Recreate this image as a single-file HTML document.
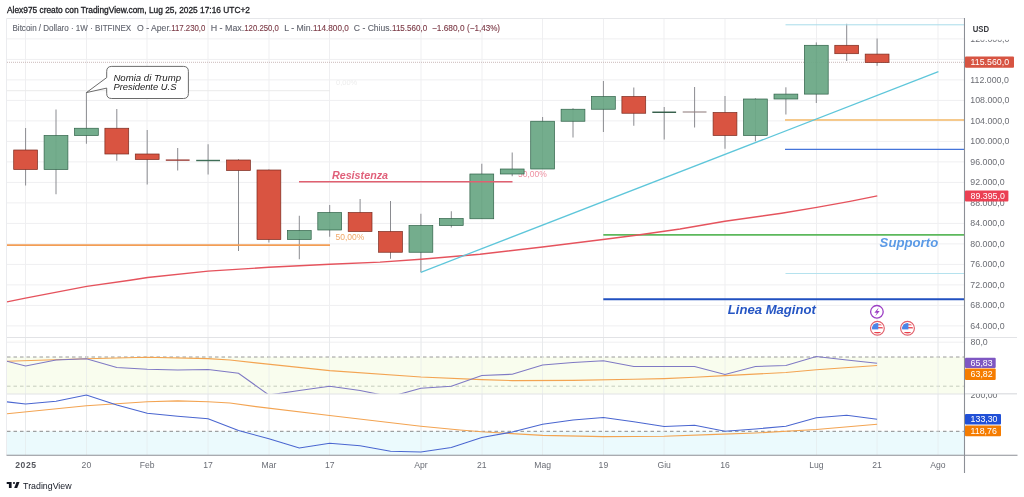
<!DOCTYPE html>
<html><head><meta charset="utf-8"><title>BTC chart</title>
<style>
html,body{margin:0;padding:0;background:#fff;}
body{width:1024px;height:497px;overflow:hidden;}
svg{display:block;-webkit-font-smoothing:antialiased;will-change:transform;}
text{white-space:pre;}
</style></head>
<body>
<svg width="1024" height="497" viewBox="0 0 1024 497">
<rect width="1024" height="497" fill="#fff"/>
<line x1="25.5" y1="19" x2="25.5" y2="455" stroke="#efeff1" stroke-width="1"/>
<line x1="86.5" y1="19" x2="86.5" y2="455" stroke="#efeff1" stroke-width="1"/>
<line x1="147.0" y1="19" x2="147.0" y2="455" stroke="#efeff1" stroke-width="1"/>
<line x1="208.0" y1="19" x2="208.0" y2="455" stroke="#efeff1" stroke-width="1"/>
<line x1="269.0" y1="19" x2="269.0" y2="455" stroke="#efeff1" stroke-width="1"/>
<line x1="329.5" y1="19" x2="329.5" y2="455" stroke="#efeff1" stroke-width="1"/>
<line x1="421.0" y1="19" x2="421.0" y2="455" stroke="#efeff1" stroke-width="1"/>
<line x1="482.0" y1="19" x2="482.0" y2="455" stroke="#efeff1" stroke-width="1"/>
<line x1="542.5" y1="19" x2="542.5" y2="455" stroke="#efeff1" stroke-width="1"/>
<line x1="603.5" y1="19" x2="603.5" y2="455" stroke="#efeff1" stroke-width="1"/>
<line x1="664.0" y1="19" x2="664.0" y2="455" stroke="#efeff1" stroke-width="1"/>
<line x1="725.0" y1="19" x2="725.0" y2="455" stroke="#efeff1" stroke-width="1"/>
<line x1="816.5" y1="19" x2="816.5" y2="455" stroke="#efeff1" stroke-width="1"/>
<line x1="877.0" y1="19" x2="877.0" y2="455" stroke="#efeff1" stroke-width="1"/>
<line x1="938.0" y1="19" x2="938.0" y2="455" stroke="#efeff1" stroke-width="1"/>
<line x1="7" y1="325.9" x2="964" y2="325.9" stroke="#efeff1" stroke-width="1"/>
<line x1="7" y1="305.4" x2="964" y2="305.4" stroke="#efeff1" stroke-width="1"/>
<line x1="7" y1="284.9" x2="964" y2="284.9" stroke="#efeff1" stroke-width="1"/>
<line x1="7" y1="264.4" x2="964" y2="264.4" stroke="#efeff1" stroke-width="1"/>
<line x1="7" y1="243.9" x2="964" y2="243.9" stroke="#efeff1" stroke-width="1"/>
<line x1="7" y1="223.4" x2="964" y2="223.4" stroke="#efeff1" stroke-width="1"/>
<line x1="7" y1="202.9" x2="964" y2="202.9" stroke="#efeff1" stroke-width="1"/>
<line x1="7" y1="182.4" x2="964" y2="182.4" stroke="#efeff1" stroke-width="1"/>
<line x1="7" y1="161.9" x2="964" y2="161.9" stroke="#efeff1" stroke-width="1"/>
<line x1="7" y1="141.4" x2="964" y2="141.4" stroke="#efeff1" stroke-width="1"/>
<line x1="7" y1="120.9" x2="964" y2="120.9" stroke="#efeff1" stroke-width="1"/>
<line x1="7" y1="100.4" x2="964" y2="100.4" stroke="#efeff1" stroke-width="1"/>
<line x1="7" y1="79.9" x2="964" y2="79.9" stroke="#efeff1" stroke-width="1"/>
<line x1="7" y1="59.4" x2="964" y2="59.4" stroke="#efeff1" stroke-width="1"/>
<line x1="7" y1="38.9" x2="964" y2="38.9" stroke="#efeff1" stroke-width="1"/>
<line x1="7" y1="90.7" x2="330" y2="90.7" stroke="#ebebeb" stroke-width="1"/>
<text x="336" y="85" font-size="7.5" fill="#ededed" font-family="'Liberation Sans', Arial, sans-serif">0,00%</text>
<line x1="7" y1="342.2" x2="964" y2="342.2" stroke="#efeff1"/>
<line x1="7" y1="371.5" x2="964" y2="371.5" stroke="#efeff1"/>
<rect x="7" y="357" width="957" height="37" fill="#f9fdee"/>
<rect x="7" y="431.3" width="957" height="23.7" fill="#ebfafd"/>
<line x1="7" y1="357" x2="964" y2="357" stroke="#9a9a9a" stroke-width="1" stroke-dasharray="3.5 3"/>
<line x1="7" y1="386.2" x2="964" y2="386.2" stroke="#c6ccbd" stroke-width="1" stroke-dasharray="3.5 3"/>
<line x1="7" y1="431.3" x2="964" y2="431.3" stroke="#8a8a8a" stroke-width="1" stroke-dasharray="3.5 3"/>
<line x1="25.5" y1="338" x2="25.5" y2="455" stroke="#e4e8ea" stroke-width="1" opacity="0.6"/>
<line x1="86.5" y1="338" x2="86.5" y2="455" stroke="#e4e8ea" stroke-width="1" opacity="0.6"/>
<line x1="147.0" y1="338" x2="147.0" y2="455" stroke="#e4e8ea" stroke-width="1" opacity="0.6"/>
<line x1="208.0" y1="338" x2="208.0" y2="455" stroke="#e4e8ea" stroke-width="1" opacity="0.6"/>
<line x1="269.0" y1="338" x2="269.0" y2="455" stroke="#e4e8ea" stroke-width="1" opacity="0.6"/>
<line x1="329.5" y1="338" x2="329.5" y2="455" stroke="#e4e8ea" stroke-width="1" opacity="0.6"/>
<line x1="421.0" y1="338" x2="421.0" y2="455" stroke="#e4e8ea" stroke-width="1" opacity="0.6"/>
<line x1="482.0" y1="338" x2="482.0" y2="455" stroke="#e4e8ea" stroke-width="1" opacity="0.6"/>
<line x1="542.5" y1="338" x2="542.5" y2="455" stroke="#e4e8ea" stroke-width="1" opacity="0.6"/>
<line x1="603.5" y1="338" x2="603.5" y2="455" stroke="#e4e8ea" stroke-width="1" opacity="0.6"/>
<line x1="664.0" y1="338" x2="664.0" y2="455" stroke="#e4e8ea" stroke-width="1" opacity="0.6"/>
<line x1="725.0" y1="338" x2="725.0" y2="455" stroke="#e4e8ea" stroke-width="1" opacity="0.6"/>
<line x1="816.5" y1="338" x2="816.5" y2="455" stroke="#e4e8ea" stroke-width="1" opacity="0.6"/>
<line x1="877.0" y1="338" x2="877.0" y2="455" stroke="#e4e8ea" stroke-width="1" opacity="0.6"/>
<line x1="938.0" y1="338" x2="938.0" y2="455" stroke="#e4e8ea" stroke-width="1" opacity="0.6"/>
<line x1="7" y1="337.5" x2="1017" y2="337.5" stroke="#e2e3e6" stroke-width="1"/>
<line x1="7" y1="394" x2="1017" y2="394" stroke="#e2e3e6" stroke-width="1"/>
<line x1="7" y1="62.3" x2="964" y2="62.3" stroke="#cbb9b9" stroke-width="1" stroke-dasharray="1 1"/>
<text x="335.5" y="240.4" font-size="8.5" fill="#f0a868" font-family="'Liberation Sans', Arial, sans-serif">50,00%</text>
<text x="518" y="177.1" font-size="8.5" fill="#ee8fa0" font-family="'Liberation Sans', Arial, sans-serif">50,00%</text>
<line x1="25.6" y1="128" x2="25.6" y2="185.5" stroke="#8a8b90" stroke-width="1"/>
<line x1="56.0" y1="109.5" x2="56.0" y2="194.25" stroke="#8a8b90" stroke-width="1"/>
<line x1="86.4" y1="92.5" x2="86.4" y2="143.75" stroke="#8a8b90" stroke-width="1"/>
<line x1="116.8" y1="109" x2="116.8" y2="160.75" stroke="#8a8b90" stroke-width="1"/>
<line x1="147.2" y1="130" x2="147.2" y2="184.5" stroke="#8a8b90" stroke-width="1"/>
<line x1="177.7" y1="148" x2="177.7" y2="170.5" stroke="#8a8b90" stroke-width="1"/>
<line x1="208.1" y1="144.25" x2="208.1" y2="174.5" stroke="#8a8b90" stroke-width="1"/>
<line x1="238.5" y1="159.25" x2="238.5" y2="251" stroke="#8a8b90" stroke-width="1"/>
<line x1="268.9" y1="169.5" x2="268.9" y2="242.5" stroke="#8a8b90" stroke-width="1"/>
<line x1="299.3" y1="215.75" x2="299.3" y2="259.25" stroke="#8a8b90" stroke-width="1"/>
<line x1="329.7" y1="205" x2="329.7" y2="236.75" stroke="#8a8b90" stroke-width="1"/>
<line x1="360.1" y1="199" x2="360.1" y2="231.5" stroke="#8a8b90" stroke-width="1"/>
<line x1="390.5" y1="201" x2="390.5" y2="258.75" stroke="#8a8b90" stroke-width="1"/>
<line x1="420.9" y1="213.75" x2="420.9" y2="272.25" stroke="#8a8b90" stroke-width="1"/>
<line x1="451.3" y1="211.25" x2="451.3" y2="227.5" stroke="#8a8b90" stroke-width="1"/>
<line x1="481.8" y1="163.75" x2="481.8" y2="218.75" stroke="#8a8b90" stroke-width="1"/>
<line x1="512.2" y1="152.5" x2="512.2" y2="176.25" stroke="#8a8b90" stroke-width="1"/>
<line x1="542.6" y1="117" x2="542.6" y2="169" stroke="#8a8b90" stroke-width="1"/>
<line x1="573.0" y1="108.25" x2="573.0" y2="137.5" stroke="#8a8b90" stroke-width="1"/>
<line x1="603.4" y1="81" x2="603.4" y2="132" stroke="#8a8b90" stroke-width="1"/>
<line x1="633.8" y1="87.5" x2="633.8" y2="125.75" stroke="#8a8b90" stroke-width="1"/>
<line x1="664.2" y1="107" x2="664.2" y2="139.5" stroke="#8a8b90" stroke-width="1"/>
<line x1="694.6" y1="87" x2="694.6" y2="127.5" stroke="#8a8b90" stroke-width="1"/>
<line x1="725.0" y1="96" x2="725.0" y2="148.75" stroke="#8a8b90" stroke-width="1"/>
<line x1="755.4" y1="98.25" x2="755.4" y2="141.25" stroke="#8a8b90" stroke-width="1"/>
<line x1="785.9" y1="87.3" x2="785.9" y2="114.5" stroke="#8a8b90" stroke-width="1"/>
<line x1="816.3" y1="42.4" x2="816.3" y2="103" stroke="#8a8b90" stroke-width="1"/>
<line x1="846.7" y1="23.8" x2="846.7" y2="61" stroke="#8a8b90" stroke-width="1"/>
<line x1="877.1" y1="38.5" x2="877.1" y2="65.8" stroke="#8a8b90" stroke-width="1"/>
<rect x="13.7" y="150" width="23.8" height="19.50" fill="#d95441" fill-opacity="1" stroke="#7a2a1e" stroke-width="0.7"/>
<rect x="44.1" y="135.5" width="23.8" height="34.00" fill="#6ba886" fill-opacity="0.94" stroke="#2f6148" stroke-width="0.7"/>
<rect x="74.5" y="128.25" width="23.8" height="7.25" fill="#6ba886" fill-opacity="0.94" stroke="#2f6148" stroke-width="0.7"/>
<rect x="104.9" y="128.25" width="23.8" height="25.75" fill="#d95441" fill-opacity="1" stroke="#7a2a1e" stroke-width="0.7"/>
<rect x="135.3" y="154" width="23.8" height="5.50" fill="#d95441" fill-opacity="1" stroke="#7a2a1e" stroke-width="0.7"/>
<rect x="165.8" y="159.43" width="23.8" height="1.4" fill="#9c3f38"/>
<rect x="196.2" y="159.80" width="23.8" height="1.4" fill="#3f6e58"/>
<rect x="226.6" y="160" width="23.8" height="10.50" fill="#d95441" fill-opacity="1" stroke="#7a2a1e" stroke-width="0.7"/>
<rect x="257.0" y="170" width="23.8" height="69.50" fill="#d95441" fill-opacity="1" stroke="#7a2a1e" stroke-width="0.7"/>
<rect x="287.4" y="230.5" width="23.8" height="9.00" fill="#6ba886" fill-opacity="0.94" stroke="#2f6148" stroke-width="0.7"/>
<rect x="317.8" y="212.5" width="23.8" height="17.50" fill="#6ba886" fill-opacity="0.94" stroke="#2f6148" stroke-width="0.7"/>
<rect x="348.2" y="212.5" width="23.8" height="19.00" fill="#d95441" fill-opacity="1" stroke="#7a2a1e" stroke-width="0.7"/>
<rect x="378.6" y="231.5" width="23.8" height="20.75" fill="#d95441" fill-opacity="1" stroke="#7a2a1e" stroke-width="0.7"/>
<rect x="409.0" y="225.5" width="23.8" height="26.75" fill="#6ba886" fill-opacity="0.94" stroke="#2f6148" stroke-width="0.7"/>
<rect x="439.4" y="218.5" width="23.8" height="7.00" fill="#6ba886" fill-opacity="0.94" stroke="#2f6148" stroke-width="0.7"/>
<rect x="469.9" y="174" width="23.8" height="44.75" fill="#6ba886" fill-opacity="0.94" stroke="#2f6148" stroke-width="0.7"/>
<rect x="500.3" y="169" width="23.8" height="5.00" fill="#6ba886" fill-opacity="0.94" stroke="#2f6148" stroke-width="0.7"/>
<rect x="530.7" y="121.25" width="23.8" height="47.75" fill="#6ba886" fill-opacity="0.94" stroke="#2f6148" stroke-width="0.7"/>
<rect x="561.1" y="109.25" width="23.8" height="12.00" fill="#6ba886" fill-opacity="0.94" stroke="#2f6148" stroke-width="0.7"/>
<rect x="591.5" y="96.5" width="23.8" height="12.75" fill="#6ba886" fill-opacity="0.94" stroke="#2f6148" stroke-width="0.7"/>
<rect x="621.9" y="96.5" width="23.8" height="16.75" fill="#d95441" fill-opacity="1" stroke="#7a2a1e" stroke-width="0.7"/>
<rect x="652.3" y="111.55" width="23.8" height="1.4" fill="#2f5a45"/>
<rect x="682.7" y="111.45" width="23.8" height="1.1" fill="#958382"/>
<rect x="713.1" y="112.5" width="23.8" height="23.00" fill="#d95441" fill-opacity="1" stroke="#7a2a1e" stroke-width="0.7"/>
<rect x="743.5" y="99" width="23.8" height="36.50" fill="#6ba886" fill-opacity="0.94" stroke="#2f6148" stroke-width="0.7"/>
<rect x="774.0" y="94.1" width="23.8" height="4.90" fill="#6ba886" fill-opacity="0.94" stroke="#2f6148" stroke-width="0.7"/>
<rect x="804.4" y="45.3" width="23.8" height="48.80" fill="#6ba886" fill-opacity="0.94" stroke="#2f6148" stroke-width="0.7"/>
<rect x="834.8" y="45.3" width="23.8" height="8.40" fill="#d95441" fill-opacity="1" stroke="#7a2a1e" stroke-width="0.7"/>
<rect x="865.2" y="54.1" width="23.8" height="8.40" fill="#d95441" fill-opacity="1" stroke="#7a2a1e" stroke-width="0.7"/>
<line x1="785.5" y1="24.8" x2="964" y2="24.8" stroke="#a8dcea" stroke-width="1"/>
<line x1="785.5" y1="273.5" x2="964" y2="273.5" stroke="#b5e2ee" stroke-width="1.2"/>
<line x1="7" y1="245.1" x2="330" y2="245.1" stroke="#f29d55" stroke-width="1.6"/>
<line x1="785" y1="120.1" x2="964" y2="120.1" stroke="#f5c98c" stroke-width="2"/>
<line x1="785" y1="149.4" x2="964" y2="149.4" stroke="#4474da" stroke-width="1.35"/>
<line x1="603.3" y1="234.9" x2="964" y2="234.9" stroke="#5cb85c" stroke-width="1.8"/>
<line x1="603.3" y1="299.3" x2="964" y2="299.3" stroke="#2050c0" stroke-width="2"/>
<line x1="299" y1="181.7" x2="512.5" y2="181.7" stroke="#e06070" stroke-width="1.5"/>
<polyline fill="none" stroke="#e5535d" stroke-width="1.4" points="7,301.9 25.4,298.1 86.7,286.4 130,280.3 147.6,277.5 208.1,271.1 268.7,267.3 330,264.2 380,262.1 421,259.2 480,254.2 542.5,247.0 603,239.5 636.25,235.2 680,229.0 724.9,221.3 781.6,213.2 816.7,207.4 850,201.4 877.3,195.9"/>
<line x1="420.8" y1="272.3" x2="938.4" y2="71.7" stroke="#5ec6da" stroke-width="1.25"/>
<text x="331.9" y="179" font-size="10" textLength="56.2" lengthAdjust="spacingAndGlyphs" font-weight="bold" font-style="italic" fill="#e0607a" font-family="'Liberation Sans', Arial, sans-serif">Resistenza</text>
<text x="879.6" y="246.9" font-size="13" textLength="58.6" lengthAdjust="spacingAndGlyphs" font-weight="bold" font-style="italic" fill="#5b9ae6" font-family="'Liberation Sans', Arial, sans-serif">Supporto</text>
<text x="727.8" y="314.4" font-size="13.1" font-weight="bold" font-style="italic" fill="#2656c4" font-family="'Liberation Sans', Arial, sans-serif">Linea Maginot</text>
<path d="M111.7,66.4 H183.4 Q188.4,66.4 188.4,71.4 V93.5 Q188.4,98.5 183.4,98.5 H111.7 Q106.7,98.5 106.7,93.5 V88.1 L86.4,92.6 L106.7,77.6 V71.4 Q106.7,66.4 111.7,66.4 Z" fill="#ffffff" stroke="#5a5a5a" stroke-width="0.9"/>
<text x="113.4" y="81.2" font-size="9.9" textLength="67.6" lengthAdjust="spacingAndGlyphs" font-style="italic" fill="#222" font-family="'Liberation Sans', Arial, sans-serif">Nomia di Trump</text>
<text x="113.4" y="90.4" font-size="9.9" textLength="63" lengthAdjust="spacingAndGlyphs" font-style="italic" fill="#222" font-family="'Liberation Sans', Arial, sans-serif">Presidente U.S</text>
<circle cx="876.9" cy="311.8" r="6.3" fill="#fff" stroke="#9c3fc4" stroke-width="1.3"/>
<path d="M878.7,307.5 L874.4,312.7 L876.9,312.7 L875.3,316.3 L879.7,310.9 L877.2,310.9 Z" fill="#9c3fc4"/>
<clipPath id="fc877"><circle cx="877.4" cy="328.3" r="5.4"/></clipPath><circle cx="877.4" cy="328.3" r="6.9" fill="#fff" stroke="#e2606c" stroke-width="1.2"/><g clip-path="url(#fc877)"><rect x="871.40" y="324.30" width="12" height="1.0" fill="#e9414c"/><rect x="871.40" y="327.10" width="12" height="1.3" fill="#e9414c"/><rect x="871.40" y="332.00" width="12" height="1.6" fill="#e9414c"/><rect x="871.40" y="322.30" width="6.9" height="7.1" fill="#4a86e8"/></g>
<clipPath id="fc907"><circle cx="907.5" cy="328.3" r="5.4"/></clipPath><circle cx="907.5" cy="328.3" r="6.9" fill="#fff" stroke="#e2606c" stroke-width="1.2"/><g clip-path="url(#fc907)"><rect x="901.50" y="324.30" width="12" height="1.0" fill="#e9414c"/><rect x="901.50" y="327.10" width="12" height="1.3" fill="#e9414c"/><rect x="901.50" y="332.00" width="12" height="1.6" fill="#e9414c"/><rect x="901.50" y="322.30" width="6.9" height="7.1" fill="#4a86e8"/></g>
<clipPath id="rsiclip"><rect x="7" y="338" width="957" height="55.5"/></clipPath>
<g clip-path="url(#rsiclip)">
<polyline fill="none" stroke="#f3a452" stroke-width="1.1" points="7.0,361.25 86.4,358.75 147.0,357.2 208.0,358.6 230.0,360 256.0,362.9 329.7,370.6 420.9,377 481.7,379.6 512.2,380.6 573.0,380.4 633.8,379.3 664.2,378.6 694.6,377.3 725.0,375.6 785.9,372.5 816.3,369.8 877.1,365.5"/>
<polyline fill="none" stroke="#7f79c4" stroke-width="1.1" points="-4.8,358.2 25.6,366 56.0,360 86.4,358.75 116.8,367.5 147.2,369.25 177.7,370 208.1,369.5 238.5,373.25 268.9,395 299.3,390.5 329.7,386.25 360.1,390.5 390.5,396.7 420.9,388.25 451.3,386.25 481.8,375.5 512.2,374.25 542.6,365 573.0,362.5 603.4,360.75 633.8,366.5 664.2,366.5 694.6,366.5 725.0,374.5 755.4,366.5 785.9,365.5 816.3,356.5 846.7,360 877.1,363.25"/>
</g>
<clipPath id="cciclip"><rect x="7" y="394" width="957" height="61"/></clipPath>
<g clip-path="url(#cciclip)">
<polyline fill="none" stroke="#f3a452" stroke-width="1.1" points="7.0,413.75 86.4,405.75 147.2,401.75 177.7,400.9 208.0,401.75 230.0,403 256.0,406.6 329.7,415.5 420.9,426.2 460.0,430 481.7,431.8 542.6,435.4 603.4,436.6 664.2,436.2 716.0,434.4 755.4,433 816.3,429.5 877.1,424.25"/>
<polyline fill="none" stroke="#4a66d0" stroke-width="1.1" points="-4.8,400.5 25.6,404 56.0,401.25 86.4,395 116.8,405 147.2,413.25 177.7,416.25 208.1,418.75 238.5,430.5 268.9,438.75 299.3,448 329.7,443.25 360.1,445.75 390.5,451.25 420.9,452 451.3,447.5 481.8,437.5 512.2,432 542.6,424.25 573.0,420 603.4,417.5 633.8,421.75 664.2,426.5 694.6,425.25 725.0,431.25 755.4,429 785.9,426.25 816.3,417.75 846.7,415.25 877.1,419.25"/>
</g>
<line x1="6.5" y1="18.5" x2="964" y2="18.5" stroke="#e6e7ea" stroke-width="1.2"/>
<line x1="6.5" y1="18.5" x2="6.5" y2="455" stroke="#ebecef" stroke-width="1"/>
<line x1="964.5" y1="18" x2="964.5" y2="473" stroke="#8c8f96" stroke-width="1.1"/>
<line x1="6.5" y1="455.3" x2="1017.5" y2="455.3" stroke="#8c8f96" stroke-width="1.1"/>
<text x="970.3" y="328.7" font-size="8.8" fill="#6b6d74" font-family="'Liberation Sans', Arial, sans-serif">64.000,0</text>
<text x="970.3" y="308.2" font-size="8.8" fill="#6b6d74" font-family="'Liberation Sans', Arial, sans-serif">68.000,0</text>
<text x="970.3" y="287.7" font-size="8.8" fill="#6b6d74" font-family="'Liberation Sans', Arial, sans-serif">72.000,0</text>
<text x="970.3" y="267.2" font-size="8.8" fill="#6b6d74" font-family="'Liberation Sans', Arial, sans-serif">76.000,0</text>
<text x="970.3" y="246.7" font-size="8.8" fill="#6b6d74" font-family="'Liberation Sans', Arial, sans-serif">80.000,0</text>
<text x="970.3" y="226.2" font-size="8.8" fill="#6b6d74" font-family="'Liberation Sans', Arial, sans-serif">84.000,0</text>
<text x="970.3" y="205.7" font-size="8.8" fill="#6b6d74" font-family="'Liberation Sans', Arial, sans-serif">88.000,0</text>
<text x="970.3" y="185.2" font-size="8.8" fill="#6b6d74" font-family="'Liberation Sans', Arial, sans-serif">92.000,0</text>
<text x="970.3" y="164.7" font-size="8.8" fill="#6b6d74" font-family="'Liberation Sans', Arial, sans-serif">96.000,0</text>
<text x="970.3" y="144.2" font-size="8.8" fill="#6b6d74" font-family="'Liberation Sans', Arial, sans-serif">100.000,0</text>
<text x="970.3" y="123.7" font-size="8.8" fill="#6b6d74" font-family="'Liberation Sans', Arial, sans-serif">104.000,0</text>
<text x="970.3" y="103.2" font-size="8.8" fill="#6b6d74" font-family="'Liberation Sans', Arial, sans-serif">108.000,0</text>
<text x="970.3" y="82.7" font-size="8.8" fill="#6b6d74" font-family="'Liberation Sans', Arial, sans-serif">112.000,0</text>
<text x="970.3" y="41.7" font-size="8.8" fill="#6b6d74" font-family="'Liberation Sans', Arial, sans-serif">120.000,0</text>
<rect x="965.2" y="17" width="52" height="22.8" fill="#fff"/>
<text x="972.7" y="31.9" font-size="8.3" font-weight="bold" textLength="16.4" lengthAdjust="spacingAndGlyphs" fill="#3a3b40" font-family="'Liberation Sans', Arial, sans-serif">USD</text>
<text x="970.6" y="345.2" font-size="8.8" fill="#6b6d74" font-family="'Liberation Sans', Arial, sans-serif">80,0</text>
<text x="970.6" y="398.4" font-size="8.8" fill="#6b6d74" font-family="'Liberation Sans', Arial, sans-serif">200,00</text>
<rect x="965.2" y="388" width="52" height="5" fill="#fff"/>
<line x1="965" y1="393.5" x2="1017" y2="393.5" stroke="#e2e3e6" stroke-width="1"/>
<rect x="965" y="56.5" width="49.0" height="11.2" fill="#d75442" rx="1"/>
<text x="970.6" y="65.2" font-size="8.8" fill="#fff" font-family="'Liberation Sans', Arial, sans-serif">115.560,0</text>
<rect x="965" y="190.4" width="43.4" height="11.1" fill="#eb4053" rx="1"/>
<text x="970.6" y="199.0" font-size="8.8" fill="#fff" font-family="'Liberation Sans', Arial, sans-serif">89.395,0</text>
<rect x="965" y="357.7" width="30.7" height="10.2" fill="#7e57c2" rx="1"/>
<text x="970.6" y="365.9" font-size="8.8" fill="#fff" font-family="'Liberation Sans', Arial, sans-serif">65,83</text>
<rect x="965" y="368.6" width="30.7" height="11.4" fill="#f57c00" rx="1"/>
<text x="970.6" y="377.4" font-size="8.8" fill="#fff" font-family="'Liberation Sans', Arial, sans-serif">63,82</text>
<rect x="965" y="413.9" width="36.0" height="10.6" fill="#2150d6" rx="1"/>
<text x="970.6" y="422.3" font-size="8.8" fill="#fff" font-family="'Liberation Sans', Arial, sans-serif">133,30</text>
<rect x="965" y="425.4" width="36.0" height="10.9" fill="#f57c00" rx="1"/>
<text x="970.6" y="434.0" font-size="8.8" fill="#fff" font-family="'Liberation Sans', Arial, sans-serif">118,76</text>
<text x="25.6" y="467.7" font-size="8.6" text-anchor="middle" font-weight="bold" textLength="20.8" lengthAdjust="spacing" fill="#55575e" font-family="'Liberation Sans', Arial, sans-serif">2025</text>
<text x="86.4" y="467.7" font-size="8.6" text-anchor="middle" fill="#6a6d75" font-family="'Liberation Sans', Arial, sans-serif">20</text>
<text x="147.2" y="467.7" font-size="8.6" text-anchor="middle" fill="#6a6d75" font-family="'Liberation Sans', Arial, sans-serif">Feb</text>
<text x="208.1" y="467.7" font-size="8.6" text-anchor="middle" fill="#6a6d75" font-family="'Liberation Sans', Arial, sans-serif">17</text>
<text x="268.9" y="467.7" font-size="8.6" text-anchor="middle" fill="#6a6d75" font-family="'Liberation Sans', Arial, sans-serif">Mar</text>
<text x="329.7" y="467.7" font-size="8.6" text-anchor="middle" fill="#6a6d75" font-family="'Liberation Sans', Arial, sans-serif">17</text>
<text x="420.9" y="467.7" font-size="8.6" text-anchor="middle" fill="#6a6d75" font-family="'Liberation Sans', Arial, sans-serif">Apr</text>
<text x="481.8" y="467.7" font-size="8.6" text-anchor="middle" fill="#6a6d75" font-family="'Liberation Sans', Arial, sans-serif">21</text>
<text x="542.6" y="467.7" font-size="8.6" text-anchor="middle" fill="#6a6d75" font-family="'Liberation Sans', Arial, sans-serif">Mag</text>
<text x="603.4" y="467.7" font-size="8.6" text-anchor="middle" fill="#6a6d75" font-family="'Liberation Sans', Arial, sans-serif">19</text>
<text x="664.2" y="467.7" font-size="8.6" text-anchor="middle" fill="#6a6d75" font-family="'Liberation Sans', Arial, sans-serif">Giu</text>
<text x="725.0" y="467.7" font-size="8.6" text-anchor="middle" fill="#6a6d75" font-family="'Liberation Sans', Arial, sans-serif">16</text>
<text x="816.3" y="467.7" font-size="8.6" text-anchor="middle" fill="#6a6d75" font-family="'Liberation Sans', Arial, sans-serif">Lug</text>
<text x="877.1" y="467.7" font-size="8.6" text-anchor="middle" fill="#6a6d75" font-family="'Liberation Sans', Arial, sans-serif">21</text>
<text x="937.9" y="467.7" font-size="8.6" text-anchor="middle" fill="#6a6d75" font-family="'Liberation Sans', Arial, sans-serif">Ago</text>
<text x="7" y="13.4" font-size="8.2" textLength="243" lengthAdjust="spacingAndGlyphs" fill="#1e1f24" stroke="#1e1f24" stroke-width="0.3" font-family="'Liberation Sans', Arial, sans-serif">Alex975 creato con TradingView.com, Lug 25, 2025 17:16 UTC+2</text>
<text x="12.5" y="31.3" font-size="8.6" stroke="#62656f" stroke-width="0.12" textLength="118.7" lengthAdjust="spacingAndGlyphs" fill="#62656f" font-family="'Liberation Sans', Arial, sans-serif">Bitcoin / Dollaro · 1W · BITFINEX</text>
<text x="137" y="31.3" font-size="8.6" stroke="#62656f" stroke-width="0.12" textLength="34.2" lengthAdjust="spacingAndGlyphs" fill="#62656f" font-family="'Liberation Sans', Arial, sans-serif">O - Aper.</text>
<text x="171.2" y="31.3" font-size="8.6" stroke="#7c3a46" stroke-width="0.12" textLength="34.2" lengthAdjust="spacingAndGlyphs" fill="#7c3a46" font-family="'Liberation Sans', Arial, sans-serif">117.230,0</text>
<text x="210.7" y="31.3" font-size="8.6" stroke="#62656f" stroke-width="0.12" textLength="33.6" lengthAdjust="spacingAndGlyphs" fill="#62656f" font-family="'Liberation Sans', Arial, sans-serif">H - Max.</text>
<text x="244.3" y="31.3" font-size="8.6" stroke="#7c3a46" stroke-width="0.12" textLength="34.5" lengthAdjust="spacingAndGlyphs" fill="#7c3a46" font-family="'Liberation Sans', Arial, sans-serif">120.250,0</text>
<text x="284.3" y="31.3" font-size="8.6" stroke="#62656f" stroke-width="0.12" textLength="28.7" lengthAdjust="spacingAndGlyphs" fill="#62656f" font-family="'Liberation Sans', Arial, sans-serif">L - Min.</text>
<text x="313" y="31.3" font-size="8.6" stroke="#7c3a46" stroke-width="0.12" textLength="35.8" lengthAdjust="spacingAndGlyphs" fill="#7c3a46" font-family="'Liberation Sans', Arial, sans-serif">114.800,0</text>
<text x="353.8" y="31.3" font-size="8.6" stroke="#62656f" stroke-width="0.12" textLength="38.2" lengthAdjust="spacingAndGlyphs" fill="#62656f" font-family="'Liberation Sans', Arial, sans-serif">C - Chius.</text>
<text x="392" y="31.3" font-size="8.6" stroke="#7c3a46" stroke-width="0.12" textLength="35.2" lengthAdjust="spacingAndGlyphs" fill="#7c3a46" font-family="'Liberation Sans', Arial, sans-serif">115.560,0</text>
<text x="432" y="31.3" font-size="8.6" stroke="#7c3a46" stroke-width="0.12" textLength="32.5" lengthAdjust="spacingAndGlyphs" fill="#7c3a46" font-family="'Liberation Sans', Arial, sans-serif">−1.680,0</text>
<text x="467" y="31.3" font-size="8.6" stroke="#7c3a46" stroke-width="0.12" textLength="33.0" lengthAdjust="spacingAndGlyphs" fill="#7c3a46" font-family="'Liberation Sans', Arial, sans-serif">(−1,43%)</text>
<path d="M6.7,481.9 H11.6 V487.9 H8.9 V484.1 H6.7 Z" fill="#131722"/>
<circle cx="14" cy="482.95" r="1.05" fill="#131722"/>
<path d="M16.5,481.9 H19.5 L17.2,487.9 H14.2 Z" fill="#131722"/>
<text x="23.1" y="488.6" font-size="9.2" textLength="48.5" lengthAdjust="spacingAndGlyphs" fill="#131722" font-family="'Liberation Sans', Arial, sans-serif">TradingView</text>
</svg>
</body></html>
